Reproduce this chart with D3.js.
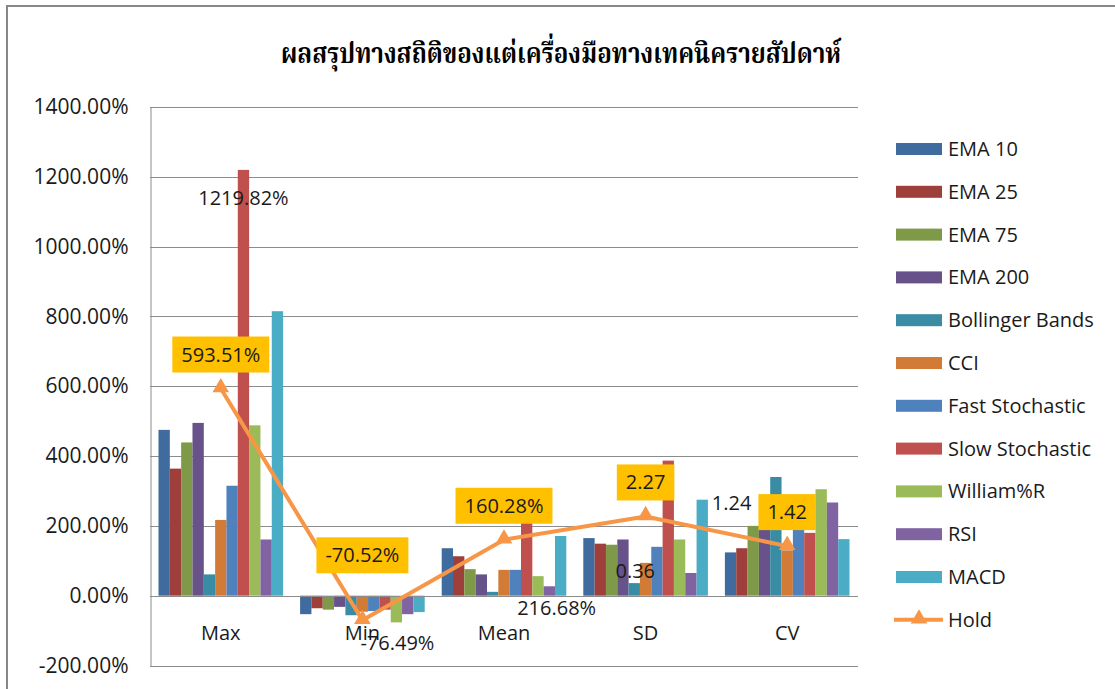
<!DOCTYPE html>
<html>
<head>
<meta charset="utf-8">
<script src="https://cdn.jsdelivr.net/npm/d3@7"></script>
<style>
  html, body { margin: 0; padding: 0; background: #fff; }
  svg { display: block; }
  .lbl { font-family: "Open Sans", "Liberation Sans", sans-serif; fill: #1a1a1a; }
</style>
</head>
<body>
<svg id="chart" width="1115" height="689"></svg>
<script>
// ---- data ----
var categories = ["Max", "Min", "Mean", "SD", "CV"];
var seriesNames = ["EMA 10", "EMA 25", "EMA 75", "EMA 200", "Bollinger Bands", "CCI",
    "Fast Stochastic", "Slow Stochastic", "William%R", "RSI", "MACD"];
var ema10     = [475, -53, 136, 165, 124];
var ema25     = [364, -36, 113, 149, 136];
var ema75     = [439, -40, 76, 146, 200];
var ema200    = [495, -32, 61, 161, 196];
var bollinger = [61, -56, 11, 36, 340];
var cci       = [217, -46, 74, 94, 130];
var fastSto   = [315, -44, 74, 140, 200];
var slowSto   = [1219.82, -40, 216.68, 387, 180];
var williamR  = [488, -76.49, 56, 161, 305];
var rsi       = [161, -53, 27, 65, 267];
var macd      = [815, -47, 171, 275, 162];
var hold      = [593.51, -70.52, 160.28, 227, 142];
var holdLabels = ["593.51%", "-70.52%", "160.28%", "2.27", "1.42"];
var yTicks = [-200, 0, 200, 400, 600, 800, 1000, 1200, 1400];
// single data labels on bars: [series index, category index, text]
var barLabels = [[7, 0, "1219.82%"], [8, 1, "-76.49%"], [7, 2, "216.68%"], [4, 3, "0.36"], [0, 4, "1.24"]];

(function() {
var seriesValues = [ema10, ema25, ema75, ema200, bollinger, cci, fastSto, slowSto, williamR, rsi, macd];
var colors = ["#3F6B9E", "#9E3F3C", "#7E9A48", "#67528A", "#398CA3", "#D17B36",
    "#4F81BD", "#C0504D", "#9BBB59", "#8064A2", "#4BACC6"];
var holdColor = "#F79646";

// ---- layout ----
var plotLeft = 150, plotRight = 858, plotTop = 107, plotBottom = 665.5;
var fs = 20;
var svg = d3.select("#chart");

svg.append("rect").attr("x", 7).attr("y", 6).attr("width", 1200).attr("height", 800)
    .attr("fill", "#fff").attr("stroke", "#878787").attr("stroke-width", 2);

svg.append("text")
    .attr("transform", "translate(561,63) scale(0.86,1)")
    .attr("text-anchor", "middle")
    .attr("font-family", "'Angsana New', 'Noto Serif Thai', 'Noto Sans Thai', 'Loma', 'Garuda', serif")
    .attr("font-weight", "bold")
    .attr("font-size", 28)
    .attr("fill", "#000")
    .text("ผลสรุปทางสถิติของแต่เครื่องมือทางเทคนิครายสัปดาห์");

var y = d3.scaleLinear().domain([-200, 1400]).range([plotBottom, plotTop]);
var x = d3.scaleBand().domain(categories).range([plotLeft, plotRight]).padding(0);
var groupW = x.bandwidth() * 11 / 12.5;
var xs = d3.scaleBand().domain(d3.range(seriesNames.length))
    .range([(x.bandwidth() - groupW) / 2, (x.bandwidth() + groupW) / 2]).padding(0);

// gridlines
svg.append("g").selectAll("line").data(yTicks).enter().append("line")
    .attr("x1", plotLeft).attr("x2", plotRight)
    .attr("y1", function(d) { return Math.round(y(d)) + 0.5; })
    .attr("y2", function(d) { return Math.round(y(d)) + 0.5; })
    .attr("stroke", "#8c8c8c").attr("stroke-width", 1);

// y axis
var yAxis = svg.append("g").attr("transform", "translate(" + (plotLeft + 0.5) + ",0)")
    .call(d3.axisLeft(y).tickValues(yTicks).tickSize(0).tickPadding(22)
        .tickFormat(function(d) { return d.toFixed(2) + "%"; }));
yAxis.attr("font-family", null);
yAxis.select(".domain").attr("stroke", "#8c8c8c");
yAxis.selectAll("text").attr("class", "lbl").attr("font-size", 21).attr("fill", "#1a1a1a");

// bars
var groups = svg.append("g").selectAll("g").data(categories).enter().append("g")
    .attr("transform", function(d) { return "translate(" + x(d) + ",0)"; });

groups.selectAll("rect")
    .data(function(c, ci) { return seriesValues.map(function(s, si) { return { si: si, v: s[ci] }; }); })
    .enter().append("rect")
    .attr("x", function(d) { return xs(d.si); })
    .attr("width", xs.bandwidth())
    .attr("y", function(d) { return y(Math.max(0, d.v)); })
    .attr("height", function(d) { return Math.abs(y(d.v) - y(0)); })
    .attr("fill", function(d) { return colors[d.si]; });

// zero axis line
svg.append("line").attr("x1", plotLeft).attr("x2", plotRight)
    .attr("y1", Math.round(y(0)) + 0.5).attr("y2", Math.round(y(0)) + 0.5)
    .attr("stroke", "#8c8c8c");

// category labels
svg.append("g").selectAll("text").data(categories).enter().append("text")
    .attr("class", "lbl").attr("font-size", fs)
    .attr("x", function(d) { return x(d) + x.bandwidth() / 2; })
    .attr("y", 640).attr("text-anchor", "middle")
    .text(function(d) { return d; });

// bar data labels (offsets from the bar end, as placed in the source)
var barLabelShift = [[0, 35], [1, 28], [30, 95], [1, -5], [1, -42]];
svg.append("g").selectAll("text").data(barLabels).enter().append("text")
    .attr("class", "lbl").attr("font-size", fs).attr("text-anchor", "middle")
    .attr("x", function(d, i) { return x(categories[d[1]]) + xs(d[0]) + xs.bandwidth() / 2 + barLabelShift[i][0]; })
    .attr("y", function(d, i) { return y(seriesValues[d[0]][d[1]]) + barLabelShift[i][1]; })
    .text(function(d) { return d[2]; });

// hold line
var cx = function(i) { return x(categories[i]) + x.bandwidth() / 2; };
svg.append("path").datum(hold)
    .attr("d", d3.line().x(function(d, i) { return cx(i); }).y(function(d) { return y(d); }))
    .attr("fill", "none").attr("stroke", holdColor).attr("stroke-width", 4)
    .attr("stroke-linejoin", "round");
var tri = d3.symbol().type(d3.symbolTriangle).size(120);
svg.append("g").selectAll("path").data(hold).enter().append("path")
    .attr("d", tri)
    .attr("transform", function(d, i) { return "translate(" + cx(i) + "," + (y(d) - 1) + ")"; })
    .attr("fill", holdColor);

// hold labels in yellow boxes
var holdLabelGap = [16, 47, 16, 16, 16];
var hl = svg.append("g").selectAll("g").data(hold).enter().append("g")
    .attr("transform", function(d, i) { return "translate(" + cx(i) + "," + (y(d) - holdLabelGap[i] - 18) + ")"; });
hl.append("text").attr("class", "lbl").attr("font-size", fs)
    .attr("text-anchor", "middle").attr("dy", "0.35em")
    .text(function(d, i) { return holdLabels[i]; });
hl.each(function() {
    var g = d3.select(this);
    var b = g.select("text").node().getBBox();
    g.insert("rect", "text")
        .attr("x", b.x - 9).attr("y", -18)
        .attr("width", b.width + 18).attr("height", 36)
        .attr("fill", "#FFC000");
});

// legend
var legend = svg.append("g").attr("transform", "translate(896,149)");
var legendItems = seriesNames.concat(["Hold"]);
var li = legend.selectAll("g").data(legendItems).enter().append("g")
    .attr("transform", function(d, i) { return "translate(0," + (i * 42.8) + ")"; });
li.filter(function(d, i) { return i < seriesNames.length; }).append("rect")
    .attr("x", 0).attr("y", -6).attr("width", 46).attr("height", 12)
    .attr("fill", function(d) { return colors[seriesNames.indexOf(d)]; });
var holdItem = li.filter(function(d) { return d === "Hold"; });
holdItem.append("line").attr("x1", -2).attr("x2", 47).attr("y1", 0).attr("y2", 0)
    .attr("stroke", holdColor).attr("stroke-width", 4);
holdItem.append("path").attr("d", tri).attr("transform", "translate(23,-1)").attr("fill", holdColor);
li.append("text").attr("class", "lbl").attr("font-size", fs)
    .attr("x", 52).attr("dy", "0.35em")
    .text(function(d) { return d; });
})();
</script>
</body>
</html>
